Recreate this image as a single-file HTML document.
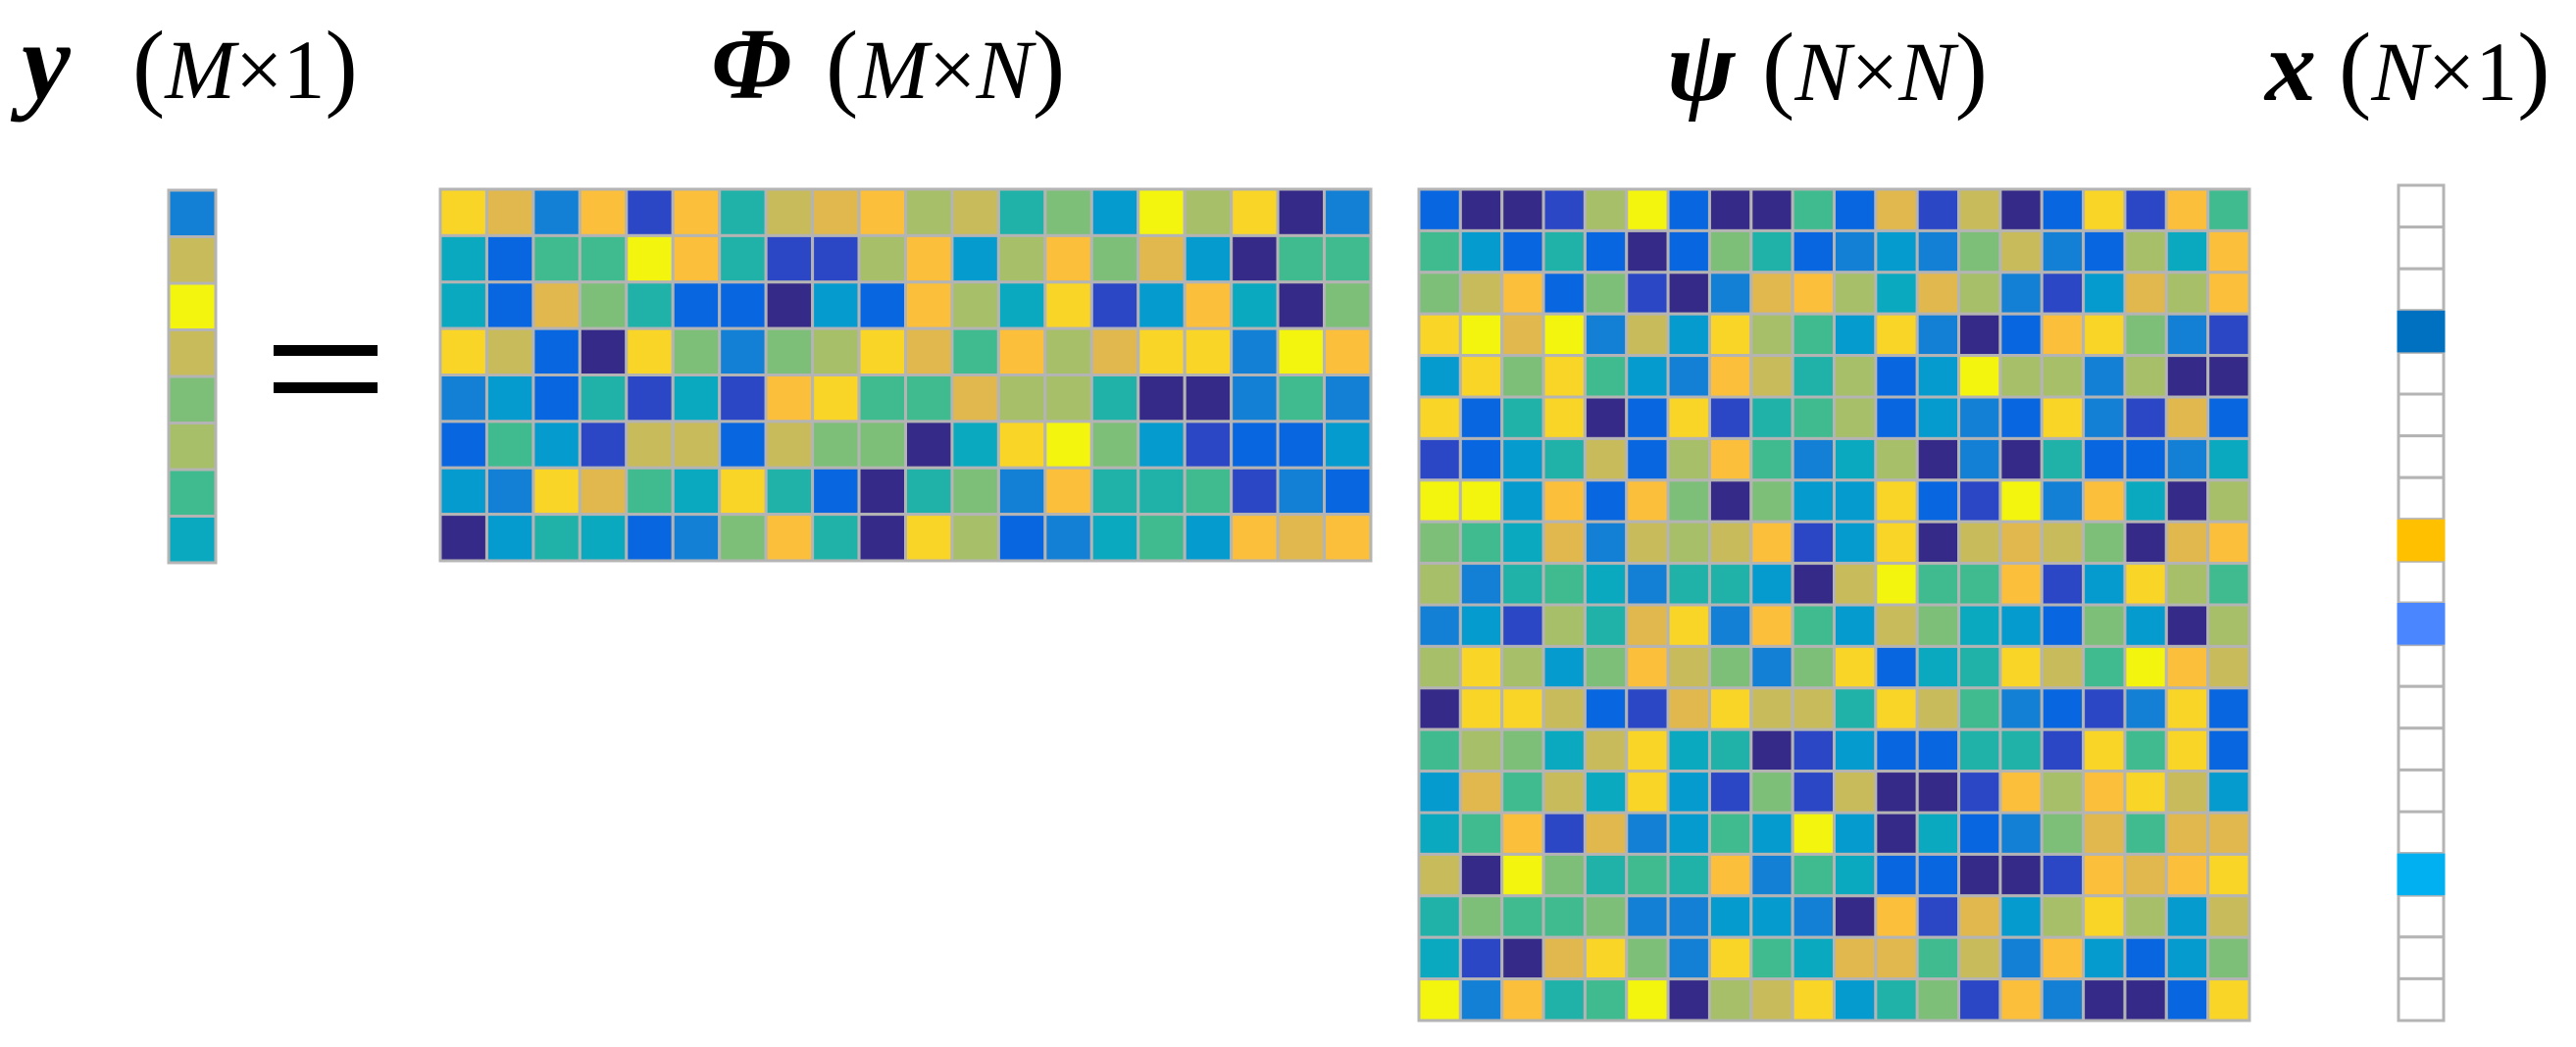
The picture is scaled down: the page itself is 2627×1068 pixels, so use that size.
<!DOCTYPE html>
<html><head><meta charset="utf-8"><style>
html,body{margin:0;padding:0;background:#fff;}
svg{display:block;}
text{font-family:"Liberation Serif",serif;fill:#000;}
.p{font-size:100px;font-style:normal;}
.i{font-style:italic;}
.u{font-style:normal;}
</style></head><body>
<svg id="fig" width="2627" height="1068" viewBox="0 0 2627 1068" xmlns="http://www.w3.org/2000/svg">
  <g>
    <text x="22" y="100" font-size="112" font-weight="bold" font-style="italic">y</text>
    <text x="135" y="100" font-size="86"><tspan class="p">(</tspan><tspan class="i">M</tspan><tspan class="u">×1</tspan><tspan class="p">)</tspan></text>
  </g>
  <g>
    <text x="725" y="100" font-size="104" font-weight="bold" font-style="italic">Φ</text>
    <text x="842" y="100" font-size="86"><tspan class="p">(</tspan><tspan class="i">M</tspan><tspan class="u">×</tspan><tspan class="i">N</tspan><tspan class="p">)</tspan></text>
  </g>
  <g>
    <text x="1700" y="102" font-size="104" font-weight="bold" font-style="italic">ψ</text>
    <text x="1797" y="102" font-size="86"><tspan class="p">(</tspan><tspan class="i">N</tspan><tspan class="u">×</tspan><tspan class="i">N</tspan><tspan class="p">)</tspan></text>
  </g>
  <g>
    <text x="2310" y="102" font-size="104" font-weight="bold" font-style="italic">x</text>
    <text x="2385" y="102" font-size="86"><tspan class="p">(</tspan><tspan class="i">N</tspan><tspan class="u">×1</tspan><tspan class="p">)</tspan></text>
  </g>
  <g>
    <rect x="279" y="352" width="106" height="11" fill="#000"/>
    <rect x="279" y="390" width="106" height="11" fill="#000"/>
  </g>
  <g id="yvec"></g>
  <g id="phi"></g>
  <g id="psi"></g>
  <g id="xvec"></g>
</svg>
<script>
const palette = ["#352a87","#2b47c6","#0866e0","#1380d6","#069bcf","#0aa9c0","#20b2a8","#40bb90","#7dbf78","#a6bf68","#c8bb5c","#e1b84e","#fbbf3b","#f8d527","#f4f50e"];
const yValues = [3,10,14,10,8,9,7,5];
const phiValues = [
[13,11,3,12,1,12,6,10,11,12,9,10,6,8,4,14,9,13,0,3],
[5,2,7,7,14,12,6,1,1,9,12,4,9,12,8,11,4,0,7,7],
[5,2,11,8,6,2,2,0,4,2,12,9,5,13,1,4,12,5,0,8],
[13,10,2,0,13,8,3,8,9,13,11,7,12,9,11,13,13,3,14,12],
[3,4,2,6,1,5,1,12,13,7,7,11,9,9,6,0,0,3,7,3],
[2,7,4,1,10,10,2,10,8,8,0,5,13,14,8,4,1,2,2,4],
[4,3,13,11,7,5,13,6,2,0,6,8,3,12,6,6,7,1,3,2],
[0,4,6,5,2,3,8,12,6,0,13,9,2,3,5,7,4,12,11,12]];
const psiValues = [
[2,0,0,1,9,14,2,0,0,7,2,11,1,10,0,2,13,1,12,7],
[7,4,2,6,2,0,2,8,6,2,3,4,3,8,10,3,2,9,5,12],
[8,10,12,2,8,1,0,3,11,12,9,5,11,9,3,1,4,11,9,12],
[13,14,11,14,3,10,4,13,9,7,4,13,3,0,2,12,13,8,3,1],
[4,13,8,13,7,4,3,12,10,6,9,2,4,14,9,9,3,9,0,0],
[13,2,6,13,0,2,13,1,6,7,9,2,4,3,2,13,3,1,11,2],
[1,2,4,6,10,2,9,12,7,3,5,9,0,3,0,6,2,2,3,5],
[14,14,4,12,2,12,8,0,8,4,4,13,2,1,14,3,12,5,0,9],
[8,7,5,11,3,10,9,10,12,1,4,13,0,10,11,10,8,0,11,12],
[9,3,6,7,5,3,6,6,4,0,10,14,7,7,12,1,4,13,9,7],
[3,4,1,9,6,11,13,3,12,7,4,10,8,5,4,2,8,4,0,9],
[9,13,9,4,8,12,10,8,3,8,13,2,5,6,13,10,7,14,12,10],
[0,13,13,10,2,1,11,13,10,10,6,13,10,7,3,2,1,3,13,2],
[7,9,8,5,10,13,5,6,0,1,4,2,2,6,6,1,13,7,13,2],
[4,11,7,10,5,13,4,1,8,1,10,0,0,1,12,9,12,13,10,4],
[5,7,12,1,11,3,4,7,4,14,4,0,5,2,3,8,11,7,11,11],
[10,0,14,8,6,7,6,12,3,7,5,2,2,0,0,1,12,11,12,13],
[6,8,7,7,8,3,3,4,4,3,0,12,1,11,4,9,13,9,4,10],
[5,1,0,11,13,8,3,13,7,5,11,11,7,10,3,12,4,2,4,8],
[14,3,12,6,7,14,0,9,10,13,4,6,8,1,12,3,0,0,2,13]];
const xIndices = [3,8,10,16];
const xColors = ["#0070c0","#ffc000","#4a86ff","#00b0f0"];
const xLength = 20;

const NS = "http://www.w3.org/2000/svg";
function cell(g, x, y, w, h, fill){
  const r = document.createElementNS(NS,"rect");
  r.setAttribute("x",x); r.setAttribute("y",y);
  r.setAttribute("width",w); r.setAttribute("height",h);
  r.setAttribute("fill",fill);
  r.setAttribute("stroke","#b4b4b4"); r.setAttribute("stroke-width","3");
  g.appendChild(r);
  return r;
}
function drawMatrix(id, data, x0, y0, x1, y1, name){
  const g = document.getElementById(id);
  const rows = data.length, cols = data[0].length;
  const cw = (x1-x0)/cols, ch = (y1-y0)/rows;
  data.forEach((row,i)=>row.forEach((v,j)=>{
    const r = cell(g, x0+j*cw, y0+i*ch, cw, ch, palette[v]);
    
    
  }));
}
drawMatrix("yvec", yValues.map(v=>[v]), 172, 194, 220, 574, "y-cell");
drawMatrix("phi", phiValues, 449, 193, 1398, 572, "phi-cell");
drawMatrix("psi", psiValues, 1447, 193, 2294, 1041, "psi-cell");

(function(){
  const g = document.getElementById("xvec");
  const x0=2446, w=46, y0=189, ch=(1041-189)/xLength;
  for(let i=0;i<xLength;i++){
    const r = cell(g, x0, y0+i*ch, w, ch, "#ffffff");
    
    
  }
  xIndices.forEach((idx,k)=>{
    const r = document.createElementNS(NS,"rect");
    r.setAttribute("x",x0-1.5); r.setAttribute("y",y0+idx*ch);
    r.setAttribute("width",w+3); r.setAttribute("height",ch);
    r.setAttribute("fill",xColors[k]);
    
    
    g.appendChild(r);
  });
})();
</script>
</body></html>
